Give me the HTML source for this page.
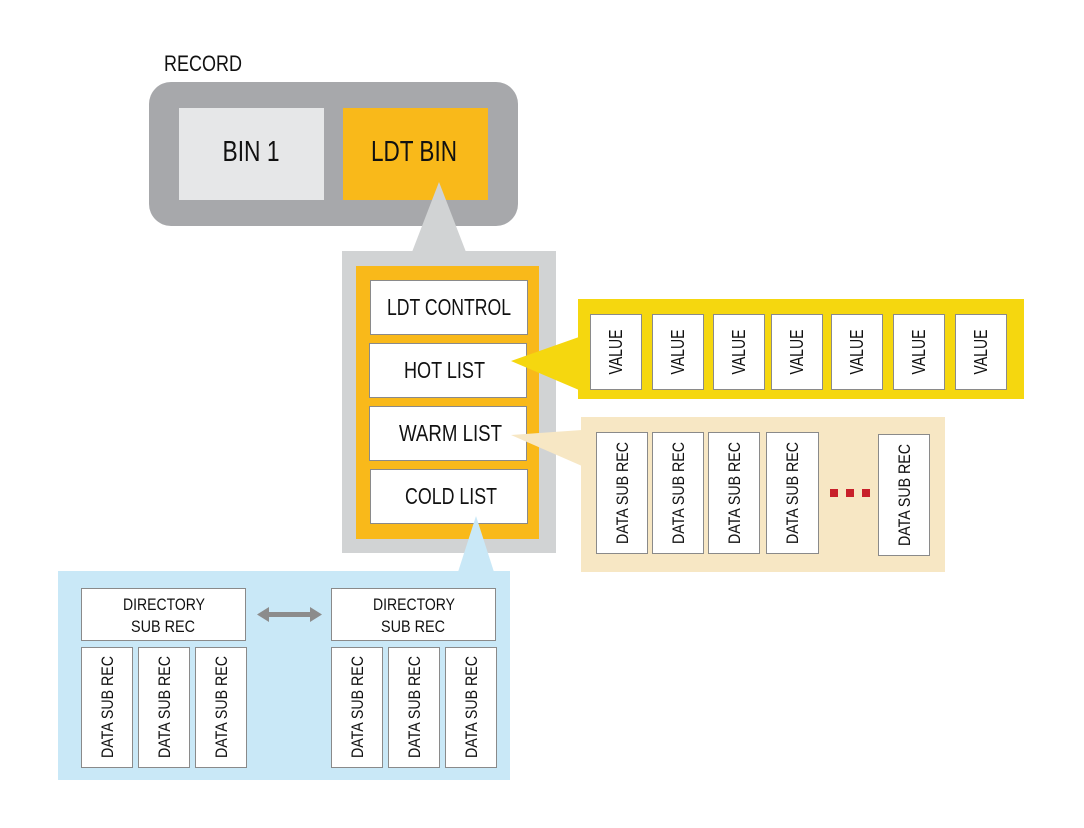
<!DOCTYPE html>
<html><head><meta charset="utf-8"><style>
html,body{margin:0;padding:0;background:#fff;}
svg{display:block;}
text{font-family:"Liberation Sans",sans-serif;fill:#111;}
</style></head><body>
<svg width="1084" height="828" viewBox="0 0 1084 828" xmlns="http://www.w3.org/2000/svg">
<!-- Record -->
<text x="164" y="71" font-size="22" textLength="78" lengthAdjust="spacingAndGlyphs">RECORD</text>
<rect x="149" y="82" width="369" height="144" rx="22" fill="#a7a8ab"/>
<rect x="179" y="108" width="145" height="92" fill="#e6e7e8"/>
<rect x="343" y="108" width="145" height="92" fill="#f9b91a"/>
<text x="251" y="161" font-size="29" text-anchor="middle" textLength="57" lengthAdjust="spacingAndGlyphs">BIN 1</text>
<text x="414" y="161" font-size="29" text-anchor="middle" textLength="86" lengthAdjust="spacingAndGlyphs">LDT BIN</text>
<polygon points="439,182 412,252 466,252" fill="#d1d3d4"/>
<!-- LDT container -->
<rect x="342" y="251" width="214" height="302" fill="#d1d3d4"/>
<rect x="356" y="266" width="183" height="273" fill="#f9b91a"/>
<g fill="#fff" stroke="#8a8a8a" stroke-width="1">
<rect x="370.5" y="280.5" width="157" height="54"/>
<rect x="369.5" y="343.5" width="157" height="54"/>
<rect x="369.5" y="406.5" width="157" height="54"/>
<rect x="370.5" y="469.5" width="157" height="54"/>
</g>
<g font-size="23" text-anchor="middle">
<text x="449" y="315" textLength="124" lengthAdjust="spacingAndGlyphs">LDT CONTROL</text>
<text x="444.5" y="378" textLength="81" lengthAdjust="spacingAndGlyphs">HOT LIST</text>
<text x="450.5" y="441" textLength="103" lengthAdjust="spacingAndGlyphs">WARM LIST</text>
<text x="451" y="504" textLength="92" lengthAdjust="spacingAndGlyphs">COLD LIST</text>
</g>
<!-- Hot callout -->
<polygon points="511,361 579,337 579,390" fill="#f5d70f"/>
<rect x="578" y="299" width="446" height="100" fill="#f5d70f"/>
<g fill="#fff" stroke="#8a8a8a" stroke-width="1">
<rect x="590.5" y="314.5" width="51" height="75"/>
<rect x="652.5" y="314.5" width="51" height="75"/>
<rect x="713.5" y="314.5" width="51" height="75"/>
<rect x="771.5" y="314.5" width="51" height="75"/>
<rect x="831.5" y="314.5" width="51" height="75"/>
<rect x="893.5" y="314.5" width="51" height="75"/>
<rect x="955.5" y="314.5" width="51" height="75"/>
</g>
<g font-size="18" text-anchor="middle">
<text transform="translate(622,352) rotate(-90)" textLength="45" lengthAdjust="spacingAndGlyphs">VALUE</text>
<text transform="translate(684,352) rotate(-90)" textLength="45" lengthAdjust="spacingAndGlyphs">VALUE</text>
<text transform="translate(745,352) rotate(-90)" textLength="45" lengthAdjust="spacingAndGlyphs">VALUE</text>
<text transform="translate(803,352) rotate(-90)" textLength="45" lengthAdjust="spacingAndGlyphs">VALUE</text>
<text transform="translate(863,352) rotate(-90)" textLength="45" lengthAdjust="spacingAndGlyphs">VALUE</text>
<text transform="translate(925,352) rotate(-90)" textLength="45" lengthAdjust="spacingAndGlyphs">VALUE</text>
<text transform="translate(987,352) rotate(-90)" textLength="45" lengthAdjust="spacingAndGlyphs">VALUE</text>
</g>
<!-- Warm callout -->
<polygon points="511,435 582,430 582,466" fill="#f7e7c4"/>
<rect x="581" y="417" width="364" height="155" fill="#f7e7c4"/>
<g fill="#fff" stroke="#8a8a8a" stroke-width="1">
<rect x="596.5" y="432.5" width="51" height="121"/>
<rect x="652.5" y="432.5" width="51" height="121"/>
<rect x="708.5" y="432.5" width="51" height="121"/>
<rect x="766.5" y="432.5" width="52" height="121"/>
<rect x="878.5" y="434.5" width="51" height="121"/>
</g>
<g font-size="17" text-anchor="middle">
<text transform="translate(628,493) rotate(-90)" textLength="102" lengthAdjust="spacingAndGlyphs">DATA SUB REC</text>
<text transform="translate(684,493) rotate(-90)" textLength="102" lengthAdjust="spacingAndGlyphs">DATA SUB REC</text>
<text transform="translate(740,493) rotate(-90)" textLength="102" lengthAdjust="spacingAndGlyphs">DATA SUB REC</text>
<text transform="translate(798,493) rotate(-90)" textLength="102" lengthAdjust="spacingAndGlyphs">DATA SUB REC</text>
<text transform="translate(910,495) rotate(-90)" textLength="102" lengthAdjust="spacingAndGlyphs">DATA SUB REC</text>
</g>
<g fill="#c8202a">
<rect x="830" y="489" width="8" height="8"/>
<rect x="846" y="489" width="8" height="8"/>
<rect x="862" y="489" width="8" height="8"/>
</g>
<!-- Cold callout -->
<polygon points="476,516 458,572 494,572" fill="#c9e8f7"/>
<rect x="58" y="571" width="452" height="209" fill="#c9e8f7"/>
<g fill="#fff" stroke="#8a8a8a" stroke-width="1">
<rect x="81.5" y="588.5" width="164" height="52"/>
<rect x="331.5" y="588.5" width="164" height="52"/>
<rect x="81.5" y="647.5" width="51" height="120"/>
<rect x="138.5" y="647.5" width="51" height="120"/>
<rect x="195.5" y="647.5" width="51" height="120"/>
<rect x="331.5" y="647.5" width="51" height="120"/>
<rect x="388.5" y="647.5" width="51" height="120"/>
<rect x="445.5" y="647.5" width="51" height="120"/>
</g>
<g font-size="17" text-anchor="middle">
<text x="164" y="610" textLength="82" lengthAdjust="spacingAndGlyphs">DIRECTORY</text>
<text x="163" y="632" textLength="64" lengthAdjust="spacingAndGlyphs">SUB REC</text>
<text x="414" y="610" textLength="82" lengthAdjust="spacingAndGlyphs">DIRECTORY</text>
<text x="413" y="632" textLength="64" lengthAdjust="spacingAndGlyphs">SUB REC</text>
<text transform="translate(113,707) rotate(-90)" textLength="102" lengthAdjust="spacingAndGlyphs">DATA SUB REC</text>
<text transform="translate(170,707) rotate(-90)" textLength="102" lengthAdjust="spacingAndGlyphs">DATA SUB REC</text>
<text transform="translate(227,707) rotate(-90)" textLength="102" lengthAdjust="spacingAndGlyphs">DATA SUB REC</text>
<text transform="translate(363,707) rotate(-90)" textLength="102" lengthAdjust="spacingAndGlyphs">DATA SUB REC</text>
<text transform="translate(420,707) rotate(-90)" textLength="102" lengthAdjust="spacingAndGlyphs">DATA SUB REC</text>
<text transform="translate(477,707) rotate(-90)" textLength="102" lengthAdjust="spacingAndGlyphs">DATA SUB REC</text>
</g>
<!-- double arrow -->
<g fill="#8c8c8c">
<rect x="264" y="612" width="52" height="5"/>
<polygon points="257,614.5 269,607 269,622"/>
<polygon points="322,614.5 310,607 310,622"/>
</g>
</svg>
</body></html>
